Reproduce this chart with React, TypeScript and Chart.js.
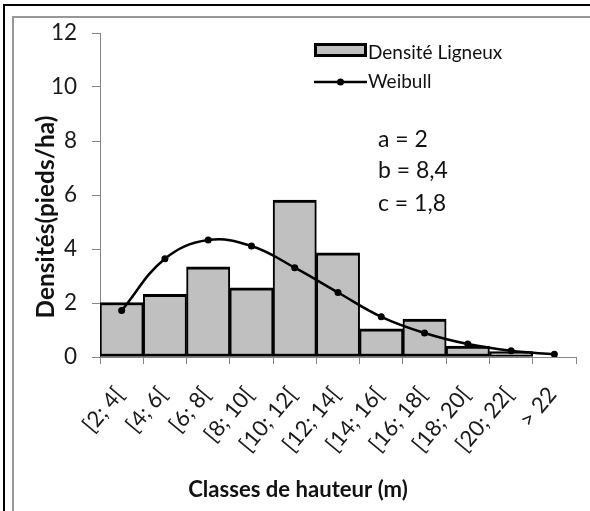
import { useEffect, useRef } from 'react';
import { Chart, registerables } from 'chart.js';

Chart.register(...registerables);

const categories = ['[2; 4[', '[4; 6[', '[6; 8[', '[8; 10[', '[10; 12[', '[12; 14[', '[14; 16[', '[16; 18[', '[18; 20[', '[20; 22[', '> 22'];
const densiteLigneux = [2.02, 2.32, 3.34, 2.56, 5.81, 3.86, 1.04, 1.40, 0.40, 0.20, 0];
const weibull = [1.72, 3.64, 4.33, 4.11, 3.31, 2.39, 1.49, 0.89, 0.48, 0.23, 0.10];
const yTickValues = [0, 2, 4, 6, 8, 10, 12];
const seriesLabels = ['Densité Ligneux', 'Weibull'];
const paramLines = ['a = 2', 'b = 8,4', 'c = 1,8'];
const xTitle = 'Classes de hauteur (m)';
const yTitle = 'Densités(pieds/ha)';

const FONT = 'Lato, "Open Sans", sans-serif';

function fit(text: string, weight: string, target: number): number {
  const c = document.createElement('canvas').getContext('2d')!;
  c.font = `${weight} 100px ${FONT}`;
  const w = c.measureText(text).width;
  return Math.round((1000 * target) / w) / 10;
}

export default function App() {
  const ref = useRef<HTMLCanvasElement>(null);
  useEffect(() => {
    document.body.style.margin = '0';
    const canvas = ref.current!;
    const yTickSize = 22.5;
    const xTickSize = 22;
    const legendSize = fit(seriesLabels[0], 'normal', 134);
    const paramSize = fit(paramLines[1], 'normal', 70);
    const xTitleSize = fit(xTitle, 'bold', 220);
    const yTitleSize = fit(yTitle, 'bold', 203);

    const decor = {
      id: 'decor',
      beforeDraw(chart: any) {
        const ctx = chart.ctx;
        ctx.save();
        ctx.fillStyle = '#fff';
        ctx.fillRect(0, 0, chart.width, chart.height);
        ctx.restore();
      },
      afterDraw(chart: any) {
        const ctx = chart.ctx as CanvasRenderingContext2D;
        ctx.save();
        // frame
        ctx.fillStyle = '#000';
        ctx.fillRect(3, 4, chart.width - 3, 2);
        ctx.fillRect(3, 4, 2, chart.height - 4);
        ctx.fillStyle = '#979797';
        ctx.fillRect(12, 16, chart.width - 12, 2);
        ctx.fillRect(12, 16, 2, chart.height - 16);

        // legend
        const barDs = chart.data.datasets[1];
        const lineDs = chart.data.datasets[0];
        ctx.fillStyle = barDs.backgroundColor;
        ctx.fillRect(315, 44, 51, 12);
        ctx.strokeStyle = '#000';
        ctx.lineWidth = 3;
        ctx.strokeRect(315.5, 44.5, 50, 11);
        ctx.beginPath();
        ctx.lineWidth = 2.5;
        ctx.moveTo(314, 82);
        ctx.lineTo(367, 82);
        ctx.stroke();
        ctx.beginPath();
        ctx.fillStyle = '#000';
        ctx.arc(340.5, 82, 3.5, 0, Math.PI * 2);
        ctx.fill();

        ctx.fillStyle = '#111';
        ctx.textAlign = 'left';
        ctx.textBaseline = 'alphabetic';
        ctx.font = `normal ${legendSize}px ${FONT}`;
        ctx.fillText(barDs.label, 368, 59);
        ctx.fillText(lineDs.label, 368, 88);

        // parameters
        ctx.font = `normal ${paramSize}px ${FONT}`;
        const baselines = [147, 178, 211];
        paramLines.forEach((t, i) => ctx.fillText(t, 378, baselines[i]));

        // axis titles
        ctx.textAlign = 'center';
        ctx.font = `bold ${xTitleSize}px ${FONT}`;
        ctx.fillText(xTitle, 298, 497);
        ctx.save();
        ctx.translate(54, 217);
        ctx.rotate(-Math.PI / 2);
        ctx.font = `bold ${yTitleSize}px ${FONT}`;
        ctx.fillText(yTitle, 0, 0);
        ctx.restore();
        ctx.restore();
      },
    };

    const chart = new Chart(canvas, {
      type: 'bar',
      data: {
        labels: categories,
        datasets: [
          {
            type: 'line',
            label: seriesLabels[1],
            data: weibull,
            borderColor: '#000',
            backgroundColor: '#000',
            borderWidth: 2.5,
            pointRadius: 3.5,
            pointBackgroundColor: '#000',
            pointBorderWidth: 0,
            tension: 0.4,
            order: 0,
          } as any,
          {
            type: 'bar',
            label: seriesLabels[0],
            data: densiteLigneux,
            backgroundColor: '#c0c0c0',
            borderColor: '#000',
            borderWidth: { top: 3, left: 2, right: 2, bottom: 3 },
            borderSkipped: false,
            barPercentage: 1,
            categoryPercentage: 1,
            order: 1,
          } as any,
        ],
      },
      options: {
        responsive: false,
        animation: false,
        devicePixelRatio: 1,
        events: [],
        layout: { padding: { left: 0, right: 14, top: 33, bottom: 0 } },
        plugins: { legend: { display: false }, tooltip: { enabled: false } },
        scales: {
          x: {
            offset: true,
            grid: { offset: true, drawOnChartArea: false, drawTicks: true, tickLength: 7, color: '#868686' },
            border: { display: true, color: '#868686' },
            ticks: {
              autoSkip: false,
              minRotation: 50,
              maxRotation: 50,
              padding: 18,
              labelOffset: -2,
              color: '#1a1a1a',
              font: { family: FONT, size: xTickSize },
            },
            afterFit: (s: any) => {
              s.height = 154;
              s.paddingLeft = 0;
              s.paddingRight = 0;
            },
          },
          y: {
            min: 0,
            max: 12,
            grid: { drawOnChartArea: false, drawTicks: true, tickLength: 8, color: '#868686' },
            border: { display: true, color: '#868686' },
            ticks: { padding: 15, color: '#1a1a1a', font: { family: FONT, size: yTickSize } },
            afterBuildTicks: (s: any) => {
              s.ticks = yTickValues.map((v) => ({ value: v }));
            },
            afterFit: (s: any) => {
              s.width = 100;
              s.paddingTop = 0;
              s.paddingBottom = 0;
            },
          },
        },
      } as any,
      plugins: [decor],
    });
    return () => chart.destroy();
  }, []);

  return (
    <div style={{ position: 'fixed', left: 0, top: 0, width: 590, height: 511, background: '#fff' }}>
      <canvas ref={ref} width={590} height={511} style={{ display: 'block' }} />
    </div>
  );
}
